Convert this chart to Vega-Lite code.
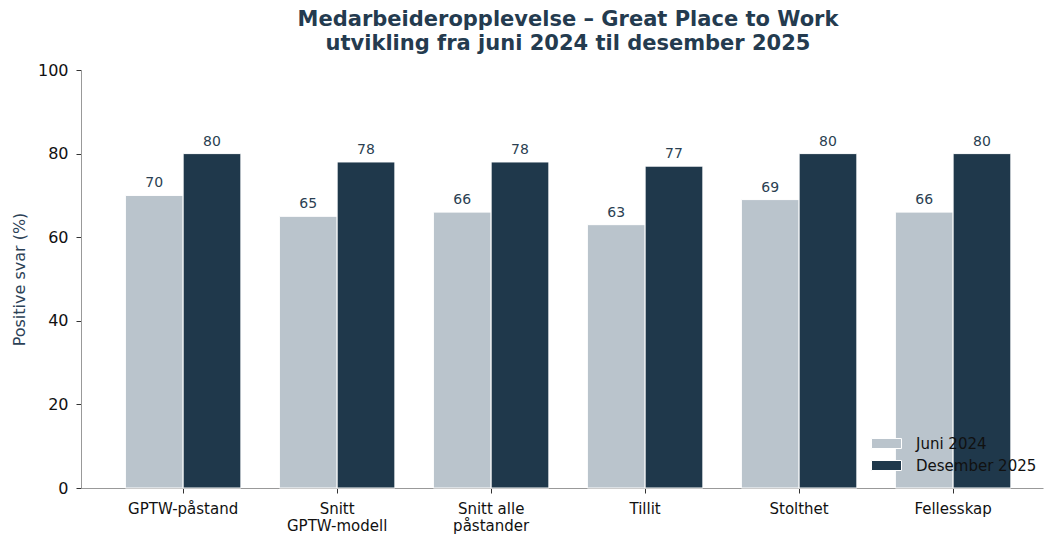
{
  "$schema": "https://vega.github.io/schema/vega-lite/v6.json",
  "autosize": "none",
  "width": 962,
  "height": 418,
  "padding": {"left": 81, "top": 70, "right": 1, "bottom": 47},
  "background": "white",
  "title": {
    "text": ["Medarbeideropplevelse – Great Place to Work", "utvikling fra juni 2024 til desember 2025"],
    "font": "DejaVu Sans",
    "fontSize": 21,
    "fontWeight": "bold",
    "color": "#243b4f",
    "anchor": "middle",
    "offset": 8,
    "dx": 6,
    "lineHeight": 24
  },
  "config": {
    "font": "DejaVu Sans",
    "view": {"stroke": null}
  },
  "data": {
    "values": [
      {"kategori": "GPTW-påstand", "periode": "Juni 2024", "verdi": 70},
      {"kategori": "GPTW-påstand", "periode": "Desember 2025", "verdi": 80},
      {"kategori": "Snitt GPTW-modell", "periode": "Juni 2024", "verdi": 65},
      {"kategori": "Snitt GPTW-modell", "periode": "Desember 2025", "verdi": 78},
      {"kategori": "Snitt alle påstander", "periode": "Juni 2024", "verdi": 66},
      {"kategori": "Snitt alle påstander", "periode": "Desember 2025", "verdi": 78},
      {"kategori": "Tillit", "periode": "Juni 2024", "verdi": 63},
      {"kategori": "Tillit", "periode": "Desember 2025", "verdi": 77},
      {"kategori": "Stolthet", "periode": "Juni 2024", "verdi": 69},
      {"kategori": "Stolthet", "periode": "Desember 2025", "verdi": 80},
      {"kategori": "Fellesskap", "periode": "Juni 2024", "verdi": 66},
      {"kategori": "Fellesskap", "periode": "Desember 2025", "verdi": 80}
    ]
  },
  "encoding": {
    "x": {
      "field": "kategori",
      "type": "nominal",
      "sort": null,
      "scale": {"paddingInner": 0.25, "paddingOuter": 0.2485, "align": 0.58},
      "axis": {
        "title": null,
        "labelAngle": 0,
        "labelFontSize": 15,
        "labelColor": "#111111",
        "labelPadding": 8,
        "labelLineHeight": 17,
        "tickColor": "#333333",
        "tickSize": 5,
        "domainColor": "#999999",
        "grid": false,
        "labelExpr": "datum.label == 'Snitt GPTW-modell' ? ['Snitt', 'GPTW-modell'] : datum.label == 'Snitt alle påstander' ? ['Snitt alle', 'påstander'] : datum.label"
      }
    },
    "xOffset": {
      "field": "periode",
      "type": "nominal",
      "sort": ["Juni 2024", "Desember 2025"],
      "scale": {"paddingInner": 0, "paddingOuter": 0}
    },
    "y": {
      "field": "verdi",
      "type": "quantitative",
      "scale": {"domain": [0, 100], "nice": false},
      "axis": {
        "title": "Positive svar (%)",
        "titleColor": "#2b4156",
        "titleFontSize": 16,
        "titleFontWeight": "normal",
        "titlePadding": 10,
        "values": [0, 20, 40, 60, 80, 100],
        "labelFontSize": 16,
        "labelColor": "#111111",
        "labelPadding": 8,
        "tickColor": "#333333",
        "tickSize": 5,
        "domainColor": "#999999",
        "grid": false
      }
    }
  },
  "layer": [
    {
      "mark": {"type": "bar", "stroke": "white", "strokeWidth": 1},
      "encoding": {
        "color": {
          "field": "periode",
          "type": "nominal",
          "sort": ["Juni 2024", "Desember 2025"],
          "scale": {"domain": ["Juni 2024", "Desember 2025"], "range": ["#bac4cc", "#1f384b"]},
          "legend": {
            "title": null,
            "orient": "none",
            "legendX": 798,
            "legendY": 366,
            "symbolType": "M-3,-1H3V1H-3Z",
            "symbolSize": 100,
            "symbolStrokeColor": "white",
            "symbolStrokeWidth": 1,
            "labelFontSize": 15,
            "labelColor": "#111111",
            "labelOffset": 22,
            "rowPadding": 6,
            "padding": 0
          }
        }
      }
    },
    {
      "mark": {"type": "text", "baseline": "bottom", "dy": -5, "fontSize": 14, "color": "#2b3f52"},
      "encoding": {
        "text": {"field": "verdi", "type": "quantitative"}
      }
    }
  ]
}
